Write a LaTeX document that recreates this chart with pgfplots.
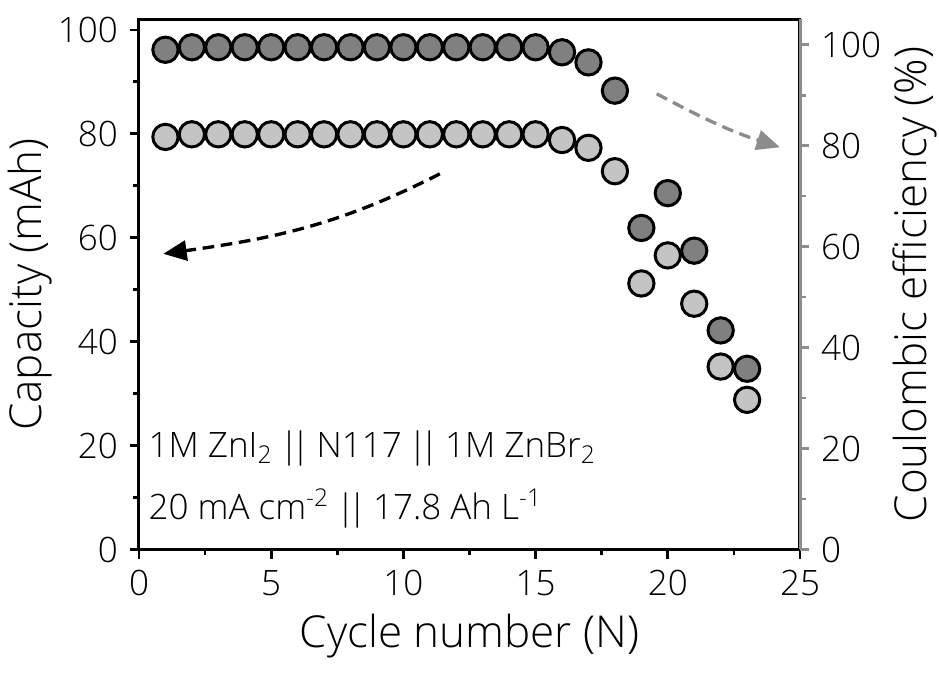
\documentclass[border=0pt]{standalone}
\usepackage{fontspec}
\IfFontExistsTF{Open Sans Light}{\setmainfont{Open Sans Light}}{%
  \IfFontExistsTF{Lato Light}{\setmainfont{Lato Light}}{\setmainfont{Open Sans}}}
\usepackage{pgfplots}
\pgfplotsset{compat=1.18}
\usetikzlibrary{arrows.meta,calc}
\definecolor{darkpt}{RGB}{128,128,128}
\definecolor{lightpt}{RGB}{196,196,196}
\definecolor{axgray}{RGB}{140,140,140}
\newcommand{\dbar}{\kern-0.8pt|\kern-2.2pt|\kern-0.8pt}

\begin{document}
\begin{tikzpicture}
\pgfplotsset{
  common/.style={
    scale only axis, width=198.3pt, height=159pt,
    xmin=0, xmax=25,
    clip=false,
    tick align=outside,
    major tick length=2.8pt, minor tick length=1.7pt,
    every tick/.style={line width=0.8pt},
    /pgf/number format/assume math mode=true,
    tick label style={font=\fontsize{10.5}{12}\selectfont},
    label style={font=\fontsize{13.2}{16}\selectfont},
  }
}
\begin{axis}[common, name=ax1,
  ymin=0, ymax=102,
  axis line style={line width=0.9pt},
  xtick={0,5,...,25}, minor x tick num=1,
  ytick={0,20,...,100}, minor y tick num=1,
  xtick pos=bottom, ytick pos=left,
  xlabel={Cycle number (N)}, ylabel={Capacity (mAh)},
  xlabel style={at={(axis description cs:0.5,-0.164)}, anchor=center},
  ylabel style={at={(axis description cs:-0.165,0.5)}, anchor=center},
]
\addplot[only marks, mark=*, mark size=3.8pt, mark options={fill=lightpt, draw=black, line width=0.9pt}] coordinates {
(1,79.4) (2,79.9) (3,79.9) (4,79.9) (5,79.9) (6,79.9) (7,79.9) (8,79.9) (9,79.9) (10,79.9)
(11,79.9) (12,79.9) (13,79.9) (14,79.9) (15,79.9) (16,78.8) (17,77.3) (18,72.8) (19,51.2)
(20,56.6) (21,47.3) (22,35.2) (23,28.8)
};
\draw[black, line width=1pt, dash pattern=on 3.5pt off 2pt, -{Triangle[length=7pt,width=6pt]}]
  (axis cs:11.38,72.3) to[out=207,in=8] (axis cs:0.92,56.9);
\draw[axgray, line width=1pt, dash pattern=on 3.5pt off 2pt, -{Triangle[length=7pt,width=6pt]}]
  (axis cs:19.58,87.7) to[out=-28,in=162] (axis cs:24.24,77.4);
\node[anchor=base west, inner sep=0pt, font=\fontsize{10.5}{12}\selectfont] at (axis cs:0.34,17.66)
  {1M ZnI\textsubscript{2} \dbar{} N117 \dbar{} 1M ZnBr\textsubscript{2}};
\node[anchor=base west, inner sep=0pt, font=\fontsize{10.5}{12}\selectfont] at (axis cs:0.34,5.76)
  {20 mA cm\textsuperscript{-2} \dbar{} 17.8 Ah L\textsuperscript{-1}};
\end{axis}

\begin{axis}[common,
  ymin=0, ymax=105,
  axis x line=none,
  axis y line*=right,
  y axis line style={draw=axgray, line width=0.9pt},
  ytick={0,20,...,100}, minor y tick num=1,
  ytick style={draw=axgray},
  ylabel={Coulombic efficiency (\%)},
  ylabel style={at={(axis description cs:1.174,0.5)}, anchor=center},
]
\addplot[only marks, mark=*, mark size=3.8pt, mark options={fill=darkpt, draw=black, line width=0.9pt}] coordinates {
(1,99.0) (2,99.5) (3,99.5) (4,99.5) (5,99.5) (6,99.5) (7,99.5) (8,99.5) (9,99.5) (10,99.5)
(11,99.5) (12,99.5) (13,99.5) (14,99.5) (15,99.5) (16,98.5) (17,96.5) (18,90.9) (19,63.7)
(20,70.6) (21,59.2) (22,43.4) (23,35.8)
};
\end{axis}
\pgfresetboundingbox
\path ($(ax1.south west)+(-41.7pt,-37.5pt)$) rectangle ($(ax1.north east)+(41.7pt,5.85pt)$);
\end{tikzpicture}
\end{document}
